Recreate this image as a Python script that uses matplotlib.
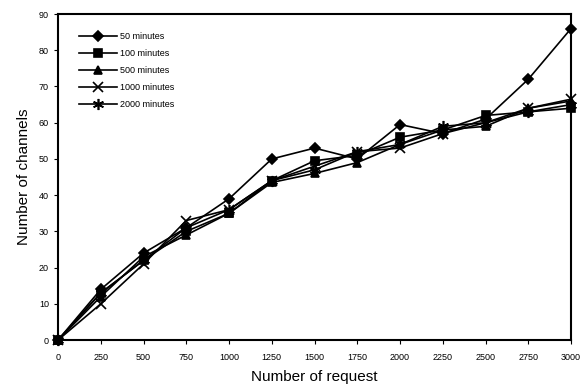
import matplotlib
matplotlib.use("Agg")
import matplotlib.pyplot as plt

plt.rcParams['font.family'] = ['Liberation Sans', 'DejaVu Sans']

requests = [0, 250, 500, 750, 1000, 1250, 1500, 1750, 2000, 2250, 2500, 2750, 3000]
labels = ["50 minutes", "100 minutes", "500 minutes", "1000 minutes", "2000 minutes"]
m50 = [0, 14, 24, 31, 39, 50, 53, 50, 59.5, 57, 61, 72, 86]
m100 = [0, 13, 22, 30, 35, 44, 49.5, 51, 56, 58, 62, 63, 64]
m500 = [0, 12, 23, 29, 35, 43.5, 46, 49, 54, 58, 59, 64, 66]
m1000 = [0, 10, 21, 33, 36, 44, 48, 52, 53, 57, 60, 64, 66.5]
m2000 = [0, 13, 22, 31, 36, 44, 47, 52, 54, 59, 60, 63, 65]
xticks = [0, 250, 500, 750, 1000, 1250, 1500, 1750, 2000, 2250, 2500, 2750, 3000]
yticks = [0, 10, 20, 30, 40, 50, 60, 70, 80, 90]

fig = plt.figure(figsize=(5.83, 3.9), dpi=100)
ax = fig.add_axes([0.0995, 0.128, 0.88, 0.836])

series = [m50, m100, m500, m1000, m2000]
markers = ['D', 's', '^', 'x', (6, 2, 0)]
sizes = [5, 6, 6, 7, 8]
for vals, lab, mk, ms in zip(series, labels, markers, sizes):
    ax.plot(requests, vals, color='black', lw=1.2, marker=mk, ms=ms,
            markeredgewidth=1.2, label=lab, clip_on=False)

ax.set_xlim(0, 3000)
ax.set_ylim(0, 90)
ax.set_xticks(xticks)
ax.set_yticks(yticks)
ax.tick_params(labelsize=6.5, length=3, direction='out')
ax.tick_params(axis='x', pad=6)
for s in ax.spines.values():
    s.set_linewidth(1.5)
ax.set_xlabel("Number of request", fontsize=11, labelpad=6)
ax.set_ylabel("Number of channels", fontsize=11, labelpad=6)
ax.legend(loc='upper left', frameon=False, fontsize=6.5, handlelength=4.2,
          labelspacing=0.9, handletextpad=0.3, bbox_to_anchor=(0.025, 0.97))

fig.savefig("out.png", dpi=100)
